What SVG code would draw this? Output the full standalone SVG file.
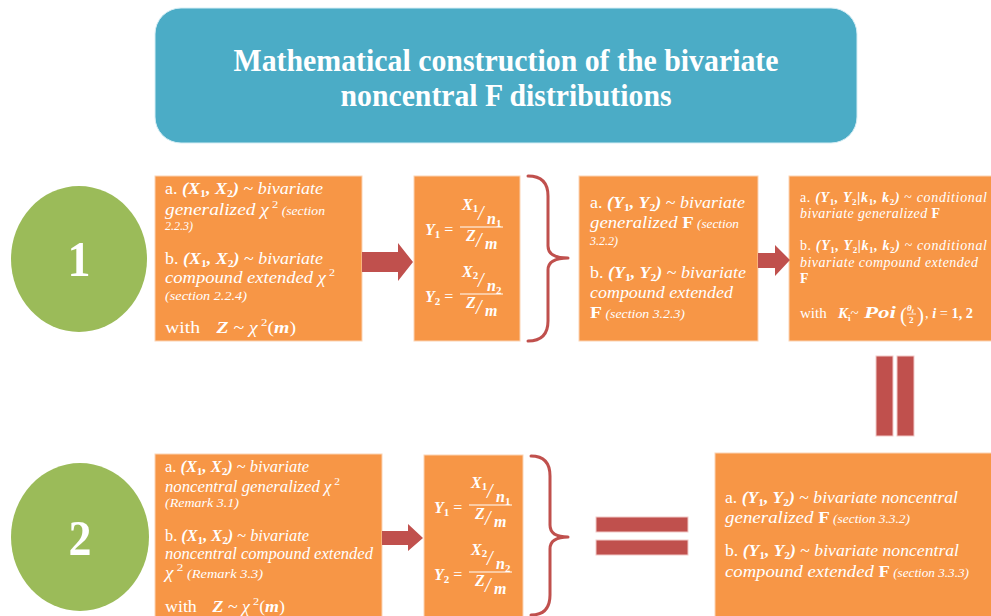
<svg xmlns="http://www.w3.org/2000/svg" width="991" height="616" viewBox="0 0 991 616">
<style>
.box{fill:#F79646;stroke:#FBD3B3;stroke-width:1}
.circ{fill:#9BBB59}
.arw{fill:#C0504D}
.brace{fill:none;stroke:#C0504D;stroke-width:3;stroke-linecap:round;stroke-linejoin:round}
.eq{fill:#C0504D;stroke:#F2C9C8;stroke-width:1}
text{font-family:"Liberation Serif","Times New Roman",serif;fill:#fff}
.f17{font-size:17px}.f16{font-size:16px}.f15{font-size:15px}.f14{font-size:14px}
.i{font-style:italic}
.m{font-style:italic;font-weight:bold}
.b{font-weight:bold}
.sb{font-size:11px;font-weight:bold}
.sb9{font-size:9px;font-weight:bold}
.sp{font-size:11px}
.r{font-size:12px;font-style:italic}
.fr{font-size:20px;font-style:italic}
.fb{stroke:#fff;stroke-width:1}
.title{font-size:31px;font-weight:bold}
</style>

<g id="header">
<rect x="155" y="8" width="702" height="135" rx="26" fill="#4BACC6" stroke="#D6EEF5" stroke-width="1"/>
<text class="title" x="506" y="71" text-anchor="middle" textLength="545" lengthAdjust="spacingAndGlyphs">Mathematical construction of the bivariate</text>
<text class="title" x="506" y="106" text-anchor="middle" textLength="331" lengthAdjust="spacingAndGlyphs">noncentral F distributions</text>
</g>

<g id="circle1">
<ellipse class="circ" cx="79" cy="259" rx="68" ry="73"/>
<text transform="translate(79,276) scale(1,1.1)" text-anchor="middle" font-size="46" font-weight="bold">1</text>
</g>
<g id="circle2">
<ellipse class="circ" cx="80" cy="537" rx="69" ry="74"/>
<text transform="translate(80,555) scale(1,1.1)" text-anchor="middle" font-size="46" font-weight="bold">2</text>
</g>

<g id="box1">
<rect class="box" x="155" y="176" width="207" height="165"/>
<text class="f17" x="165" y="194" textLength="158" lengthAdjust="spacingAndGlyphs">a. <tspan class="m">(X</tspan><tspan class="sb" dy="3">1</tspan><tspan class="m" dy="-3">, X</tspan><tspan class="sb" dy="3">2</tspan><tspan class="m" dy="-3">)</tspan> ~ <tspan class="i">bivariate</tspan></text>
<text class="f17" x="165" y="215" textLength="160" lengthAdjust="spacingAndGlyphs"><tspan class="i">generalized χ</tspan><tspan class="sp" dy="-7"> 2</tspan><tspan class="r" dy="7"> (section</tspan></text>
<text class="r" x="165" y="230">2.2.3)</text>
<text class="f17" x="165" y="264" textLength="158" lengthAdjust="spacingAndGlyphs">b. <tspan class="m">(X</tspan><tspan class="sb" dy="3">1</tspan><tspan class="m" dy="-3">, X</tspan><tspan class="sb" dy="3">2</tspan><tspan class="m" dy="-3">)</tspan> ~ <tspan class="i">bivariate</tspan></text>
<text class="f17" x="165" y="283" textLength="170" lengthAdjust="spacingAndGlyphs"><tspan class="i">compound extended χ</tspan><tspan class="sp" dy="-7"> 2</tspan></text>
<text class="r" x="165" y="300" textLength="82" lengthAdjust="spacingAndGlyphs">(section 2.2.4)</text>
<text class="f17" x="165" y="333" textLength="131" lengthAdjust="spacingAndGlyphs">with<tspan class="m" dx="14">Z</tspan> ~ <tspan class="i">χ</tspan><tspan class="sp" dy="-7"> 2</tspan><tspan dy="7">(</tspan><tspan class="m">m</tspan>)</text>
</g>

<g id="box2">
<rect class="box" x="414" y="176" width="106" height="165"/>
<text class="f16" x="425" y="235"><tspan class="m">Y</tspan><tspan class="sb" dy="3">1</tspan><tspan dy="-3"> =</tspan></text>
<line class="fb" x1="460" y1="227" x2="503" y2="227"/>
<text class="f16" x="462" y="210"><tspan class="m">X</tspan><tspan class="sb" dy="2">1</tspan></text>
<text class="fr" x="478" y="220">/</text>
<text class="f16" x="487" y="224"><tspan class="m">n</tspan><tspan class="sb" dy="3">1</tspan></text>
<text class="f16 m" x="466" y="241">Z</text>
<text class="fr" x="476" y="247">/</text>
<text class="f16 m" x="485" y="249">m</text>
<text class="f16" x="425" y="302"><tspan class="m">Y</tspan><tspan class="sb" dy="3">2</tspan><tspan dy="-3"> =</tspan></text>
<line class="fb" x1="460" y1="294" x2="503" y2="294"/>
<text class="f16" x="462" y="277"><tspan class="m">X</tspan><tspan class="sb" dy="2">2</tspan></text>
<text class="fr" x="478" y="287">/</text>
<text class="f16" x="487" y="291"><tspan class="m">n</tspan><tspan class="sb" dy="3">2</tspan></text>
<text class="f16 m" x="466" y="308">Z</text>
<text class="fr" x="476" y="314">/</text>
<text class="f16 m" x="485" y="316">m</text>
</g>

<g id="box3">
<rect class="box" x="579" y="176" width="179" height="165"/>
<text class="f17" x="590" y="208" textLength="155" lengthAdjust="spacingAndGlyphs">a. <tspan class="m">(Y</tspan><tspan class="sb" dy="3">1</tspan><tspan class="m" dy="-3">, Y</tspan><tspan class="sb" dy="3">2</tspan><tspan class="m" dy="-3">)</tspan> ~ <tspan class="i">bivariate</tspan></text>
<text class="f17" x="590" y="228" textLength="149" lengthAdjust="spacingAndGlyphs"><tspan class="i">generalized </tspan><tspan class="b">F</tspan><tspan class="r">  (section</tspan></text>
<text class="r" x="590" y="245">3.2.2)</text>
<text class="f17" x="590" y="278" textLength="156" lengthAdjust="spacingAndGlyphs">b. <tspan class="m">(Y</tspan><tspan class="sb" dy="3">1</tspan><tspan class="m" dy="-3">, Y</tspan><tspan class="sb" dy="3">2</tspan><tspan class="m" dy="-3">)</tspan> ~ <tspan class="i">bivariate</tspan></text>
<text class="f17 i" x="590" y="298" textLength="143" lengthAdjust="spacingAndGlyphs">compound extended</text>
<text class="f17" x="590" y="318" textLength="95" lengthAdjust="spacingAndGlyphs"><tspan class="b">F</tspan><tspan class="r">  (section 3.2.3)</tspan></text>
</g>

<g id="box4">
<rect class="box" x="789" y="176" width="210" height="165"/>
<text class="f14" x="800" y="202" textLength="187">a. <tspan class="m">(Y</tspan><tspan class="sb9" dy="3">1</tspan><tspan class="m" dy="-3">, Y</tspan><tspan class="sb9" dy="3">2</tspan><tspan class="m" dy="-3">|k</tspan><tspan class="sb9" dy="3">1</tspan><tspan class="m" dy="-3">, k</tspan><tspan class="sb9" dy="3">2</tspan><tspan class="m" dy="-3">)</tspan> ~ <tspan class="i">conditional</tspan></text>
<text class="f14" x="800" y="218" textLength="140"><tspan class="i">bivariate generalized </tspan><tspan class="b">F</tspan></text>
<text class="f14" x="800" y="250" textLength="187">b. <tspan class="m">(Y</tspan><tspan class="sb9" dy="3">1</tspan><tspan class="m" dy="-3">, Y</tspan><tspan class="sb9" dy="3">2</tspan><tspan class="m" dy="-3">|k</tspan><tspan class="sb9" dy="3">1</tspan><tspan class="m" dy="-3">, k</tspan><tspan class="sb9" dy="3">2</tspan><tspan class="m" dy="-3">)</tspan> ~ <tspan class="i">conditional</tspan></text>
<text class="f14 i" x="800" y="267" textLength="178">bivariate compound extended</text>
<text class="f14 b" x="800" y="283">F</text>
<text class="f15" x="800" y="318">with</text>
<text class="f15" x="838" y="318"><tspan class="m">K</tspan><tspan class="sb9" dy="3">i</tspan><tspan dy="-3">~</tspan></text>
<text class="f16 m" x="864" y="318" textLength="32" lengthAdjust="spacingAndGlyphs">Poi</text>
<text x="900" y="322" font-size="21">(</text>
<text x="907" y="311" font-size="9" font-weight="bold" font-style="italic">θ<tspan font-size="7" dy="2">i</tspan></text>
<line x1="907" y1="314" x2="916" y2="314" stroke="#fff" stroke-width="0.8"/>
<text x="909" y="323" font-size="9" font-weight="bold">2</text>
<text x="917" y="322" font-size="21">)</text>
<text class="f15" x="925" y="318" textLength="48" lengthAdjust="spacingAndGlyphs">, <tspan class="m">i</tspan> = <tspan class="b">1, 2</tspan></text>
</g>

<g id="box5">
<rect class="box" x="155" y="454" width="227" height="170"/>
<text class="f16" x="165" y="472" textLength="144" lengthAdjust="spacingAndGlyphs">a. <tspan class="m">(X</tspan><tspan class="sb" dy="3">1</tspan><tspan class="m" dy="-3">, X</tspan><tspan class="sb" dy="3">2</tspan><tspan class="m" dy="-3">)</tspan> ~ <tspan class="i">bivariate</tspan></text>
<text class="f16" x="165" y="492" textLength="175" lengthAdjust="spacingAndGlyphs"><tspan class="i">noncentral generalized  χ</tspan><tspan class="sp" dy="-7"> 2</tspan></text>
<text class="r" x="165" y="507" textLength="74" lengthAdjust="spacingAndGlyphs">(Remark 3.1)</text>
<text class="f16" x="165" y="541" textLength="144" lengthAdjust="spacingAndGlyphs">b. <tspan class="m">(X</tspan><tspan class="sb" dy="3">1</tspan><tspan class="m" dy="-3">, X</tspan><tspan class="sb" dy="3">2</tspan><tspan class="m" dy="-3">)</tspan> ~ <tspan class="i">bivariate</tspan></text>
<text class="f16 i" x="165" y="559" textLength="208" lengthAdjust="spacingAndGlyphs">noncentral compound extended</text>
<text class="f16" x="165" y="578" textLength="98" lengthAdjust="spacingAndGlyphs"><tspan class="i">χ</tspan><tspan class="sp" dy="-7"> 2</tspan><tspan class="r" dy="7">  (Remark 3.3)</tspan></text>
<text class="f16" x="165" y="612" textLength="120" lengthAdjust="spacingAndGlyphs">with<tspan class="m" dx="14">Z</tspan> ~ <tspan class="i">χ</tspan><tspan class="sp" dy="-7"> 2</tspan><tspan dy="7">(</tspan><tspan class="m">m</tspan>)</text>
</g>

<g id="box6">
<rect class="box" x="424" y="455" width="99" height="170"/>
<text class="f16" x="434" y="513"><tspan class="m">Y</tspan><tspan class="sb" dy="3">1</tspan><tspan dy="-3"> =</tspan></text>
<line class="fb" x1="469" y1="505" x2="512" y2="505"/>
<text class="f16" x="471" y="488"><tspan class="m">X</tspan><tspan class="sb" dy="2">1</tspan></text>
<text class="fr" x="487" y="498">/</text>
<text class="f16" x="496" y="502"><tspan class="m">n</tspan><tspan class="sb" dy="3">1</tspan></text>
<text class="f16 m" x="475" y="519">Z</text>
<text class="fr" x="485" y="525">/</text>
<text class="f16 m" x="494" y="527">m</text>
<text class="f16" x="434" y="580"><tspan class="m">Y</tspan><tspan class="sb" dy="3">2</tspan><tspan dy="-3"> =</tspan></text>
<line class="fb" x1="469" y1="572" x2="512" y2="572"/>
<text class="f16" x="471" y="555"><tspan class="m">X</tspan><tspan class="sb" dy="2">2</tspan></text>
<text class="fr" x="487" y="565">/</text>
<text class="f16" x="496" y="569"><tspan class="m">n</tspan><tspan class="sb" dy="3">2</tspan></text>
<text class="f16 m" x="475" y="586">Z</text>
<text class="fr" x="485" y="592">/</text>
<text class="f16 m" x="494" y="594">m</text>
</g>

<g id="box7">
<rect class="box" x="715" y="453" width="290" height="175"/>
<text class="f17" x="725" y="503" textLength="233" lengthAdjust="spacingAndGlyphs">a. <tspan class="m">(Y</tspan><tspan class="sb" dy="3">1</tspan><tspan class="m" dy="-3">, Y</tspan><tspan class="sb" dy="3">2</tspan><tspan class="m" dy="-3">)</tspan> ~ <tspan class="i">bivariate noncentral</tspan></text>
<text class="f17" x="725" y="523" textLength="185" lengthAdjust="spacingAndGlyphs"><tspan class="i">generalized </tspan><tspan class="b">F</tspan><tspan class="r">  (section 3.3.2)</tspan></text>
<text class="f17" x="725" y="556" textLength="234" lengthAdjust="spacingAndGlyphs">b. <tspan class="m">(Y</tspan><tspan class="sb" dy="3">1</tspan><tspan class="m" dy="-3">, Y</tspan><tspan class="sb" dy="3">2</tspan><tspan class="m" dy="-3">)</tspan> ~ <tspan class="i">bivariate noncentral</tspan></text>
<text class="f17" x="725" y="577" textLength="244" lengthAdjust="spacingAndGlyphs"><tspan class="i">compound extended </tspan><tspan class="b">F</tspan><tspan class="r">  (section 3.3.3)</tspan></text>
</g>

<g id="connectors">
<polygon class="arw" points="362,252 398,252 398,243 413,262 398,281 398,272 362,272"/>
<polygon class="arw" points="758,253 775,253 775,245 790,260 775,276 775,268 758,268"/>
<polygon class="arw" points="382,531 408,531 408,524 423,538 408,551 408,545 382,545"/>
<path class="brace" d="M528,176 Q548,176 548,196 L548,246 Q548,258 568,258 Q548,258 548,270 L548,321 Q548,341 528,341"/>
<path class="brace" d="M531,456 Q550,456 550,476 L550,525 Q550,537 568,537 Q550,537 550,549 L550,595 Q550,615 531,615"/>
<rect class="eq" x="596" y="517" width="92" height="15"/>
<rect class="eq" x="596" y="540" width="92" height="15"/>
<rect class="eq" x="876" y="356" width="17" height="80"/>
<rect class="eq" x="897" y="356" width="17" height="80"/>
</g>
</svg>
